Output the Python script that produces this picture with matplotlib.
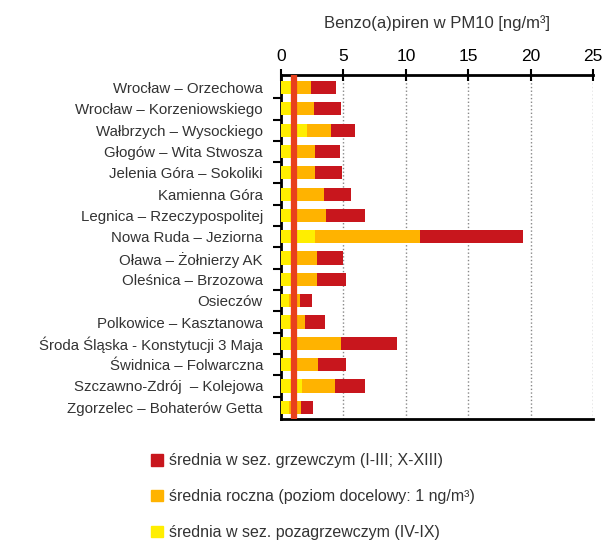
import matplotlib
matplotlib.use('Agg')
import matplotlib.pyplot as plt
from matplotlib.patches import Patch
import numpy as np

# === DANE ===
stacje = [
    'Wrocław – Orzechowa',
    'Wrocław – Korzeniowskiego',
    'Wałbrzych – Wysockiego',
    'Głogów – Wita Stwosza',
    'Jelenia Góra – Sokoliki',
    'Kamienna Góra',
    'Legnica – Rzeczypospolitej',
    'Nowa Ruda – Jeziorna',
    'Oława – Żołnierzy AK',
    'Oleśnica – Brzozowa',
    'Osieczów',
    'Polkowice – Kasztanowa',
    'Środa Śląska - Konstytucji 3 Maja',
    'Świdnica – Folwarczna',
    'Szczawno-Zdrój  – Kolejowa',
    'Zgorzelec – Bohaterów Getta',
]
sez_grzewczy = [4.4, 4.8, 5.9, 4.7, 4.85, 5.6, 6.7, 19.4, 5.0, 5.2, 2.5, 3.5, 9.3, 5.2, 6.7, 2.6]
roczna = [2.4, 2.65, 4.0, 2.7, 2.7, 3.45, 3.6, 11.1, 2.9, 2.9, 1.5, 1.95, 4.8, 3.0, 4.3, 1.6]
sez_pozagrzewczy = [1.2, 1.25, 2.1, 1.2, 1.2, 1.2, 1.25, 2.7, 1.2, 1.2, 0.6, 0.7, 1.3, 1.2, 1.65, 0.6]
poziom_docelowy = 1.0

LABELS = ['średnia w sez. grzewczym (I-III; X-XIII)',
          'średnia roczna (poziom docelowy: 1 ng/m³)',
          'średnia w sez. pozagrzewczym (IV-IX)']

C_RED = '#C8161D'
C_ORANGE = '#FFB300'
C_YELLOW = '#FFEE00'
C_LINE = '#E8401C'

plt.rcParams['font.family'] = ['Liberation Sans', 'DejaVu Sans']

fig = plt.figure(figsize=(6.07, 5.42), dpi=100)
ax = fig.add_axes([0.463, 0.227, 0.514, 0.635])

y = np.arange(len(stacje))
h = 0.62
ax.barh(y, sez_grzewczy, height=h, color=C_RED, zorder=2)
ax.barh(y, roczna, height=h, color=C_ORANGE, zorder=3)
ax.barh(y, sez_pozagrzewczy, height=h, color=C_YELLOW, zorder=4)
ax.axvline(poziom_docelowy, color=C_LINE, lw=4.5, zorder=5)

ax.set_xlim(0, 25)
ax.set_ylim(len(stacje) - 0.45, -0.6)
ax.set_xticks([0, 5, 10, 15, 20, 25])
ax.xaxis.tick_top()
ax.tick_params(axis='x', direction='inout', length=8, width=1.5, labelsize=12.5, pad=4, colors='black')
ax.xaxis.grid(True, linestyle=':', color='#888888', lw=1, zorder=0)

ax.set_yticks(y)
ax.set_yticklabels(stacje, fontsize=10.8, color='#333333')
ax.tick_params(axis='y', length=0, pad=13)
ax.set_yticks(y[:-1] + 0.5, minor=True)
ax.tick_params(axis='y', which='minor', direction='out', length=6, width=1.5)

for s in ['top', 'left', 'bottom']:
    ax.spines[s].set_linewidth(2)
ax.spines['right'].set_visible(False)

fig.text(0.72, 0.958, 'Benzo(a)piren w PM10 [ng/m³]', ha='center', va='center',
         fontsize=12, color='#333333')

handles = [Patch(color=C_RED), Patch(color=C_ORANGE), Patch(color=C_YELLOW)]
fig.legend(handles, LABELS, loc='upper left', bbox_to_anchor=(0.225, 0.19),
           frameon=False, handlelength=0.75, handleheight=0.75, handletextpad=0.4,
           labelspacing=1.3, fontsize=11.5, labelcolor='#333333')

fig.savefig('out.png', dpi=100, facecolor='white')
